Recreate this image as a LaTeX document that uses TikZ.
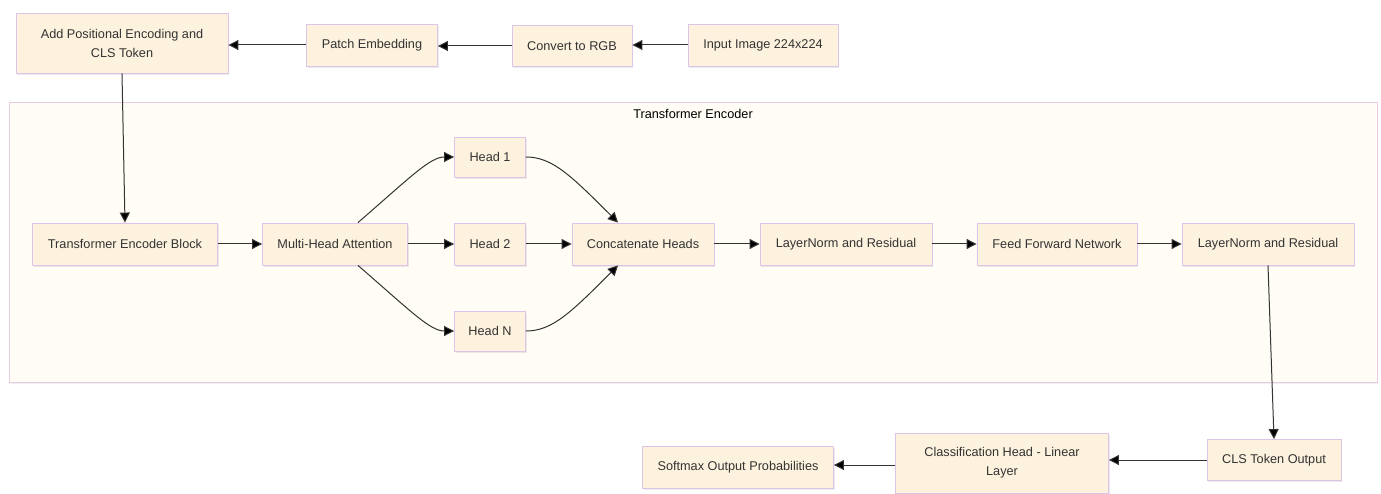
\documentclass[tikz,border=0pt]{standalone}
\usepackage{fontspec}
\setmainfont{Liberation Sans}
\usepackage{tikz}
\usetikzlibrary{arrows.meta,shadows,calc}
\usepackage{xcolor}
\definecolor{stagefill}{RGB}{253,242,222}
\definecolor{stagedraw}{RGB}{222,196,232}
\definecolor{groupfill}{RGB}{255,253,246}
\definecolor{groupdraw}{RGB}{230,205,228}
\definecolor{inkcol}{RGB}{51,51,51}
\tikzset{
  % processing stage
  stage/.style={rectangle, draw=stagedraw, fill=stagefill, line width=0.9pt,
                minimum width=#1, minimum height=42pt, inner sep=3pt,
                text=inkcol, align=center,
                font=\fontsize{12.7}{19}\selectfont,
                drop shadow={opacity=0.16, shadow xshift=1pt, shadow yshift=-1.6pt}},
  stage/.default={140pt},
  % surrounding group
  groupbox/.style={rectangle, draw=groupdraw, fill=groupfill, line width=0.9pt,
                   drop shadow={opacity=0.12, shadow xshift=1pt, shadow yshift=-1.6pt}},
  % data flow arrow
  flow/.style={-{Triangle[length=10pt,width=10pt,fill=black]}, line width=1pt, draw=inkcol},
}

\begin{document}
\begin{tikzpicture}[x=1pt, y=1pt]
  \useasboundingbox (0,0) rectangle (1381,493);

  % encoder group
  \node[groupbox, minimum width=1368pt, minimum height=280pt, anchor=south west] (enc) at (9,110) {};
  \node[font=\fontsize{12.7}{15}\selectfont, text=black] (enctitle) at (693,379) {Transformer Encoder};

  % input pipeline
  \node[stage=212pt, minimum height=60pt] (addpos) at (122,450) {Add Positional Encoding and\\CLS Token};
  \node[stage=131pt] (patch) at (372,448) {Patch Embedding};
  \node[stage=120pt, minimum height=41pt] (rgb) at (572,447) {Convert to RGB};
  \node[stage=150pt] (input) at (763,448) {Input Image 224x224};

  % encoder stages
  \node[stage=185pt] (block) at (125,249) {Transformer Encoder Block};
  \node[stage=145pt] (mha) at (335,249) {Multi-Head Attention};
  \node[stage=71pt, minimum height=40pt] (head1) at (490,336) {Head 1};
  \node[stage=71pt] (head2) at (490,249) {Head 2};
  \node[stage=71pt, minimum height=40pt] (headn) at (490,162) {Head N};
  \node[stage=142pt] (concat) at (643,249) {Concatenate Heads};
  \node[stage=172pt] (norm1) at (846,249) {LayerNorm and Residual};
  \node[stage=160pt] (ffn) at (1057,249) {Feed Forward Network};
  \node[stage=172pt] (norm2) at (1268,249) {LayerNorm and Residual};

  % output stages
  \node[stage=134pt, minimum height=41pt] (cls) at (1274,33) {CLS Token Output};
  \node[stage=213pt, minimum height=60pt] (classif) at (1002,30) {Classification Head - Linear\\Layer};
  \node[stage=191pt] (softmax) at (738,26) {Softmax Output Probabilities};

  % fan-out and fan-in points
  \coordinate (mhatop) at ($(mha.north)+(23,0)$);
  \coordinate (mhabot) at ($(mha.south)+(23,0)$);
  \coordinate (cattop) at ($(concat.north)+(-25,0)$);
  \coordinate (catbot) at ($(concat.south)+(-25,0)$);
  \coordinate (clsout) at ($(classif.west)+(0,-2)$);

  % top row, right to left
  \draw[flow] (input.west) -- (input.west -| rgb.east);
  \draw[flow] (rgb.west) -- (rgb.west -| patch.east);
  \draw[flow] (patch.west) -- (patch.west -| addpos.east);
  \draw[flow] (addpos.south) -- (block.north);

  % attention heads
  \draw[flow] (block) -- (mha);
  \draw[flow] (mhatop) .. controls +(52,45) and +(-24,0) .. (head1.west);
  \draw[flow] (mha) -- (head2);
  \draw[flow] (mhabot) .. controls +(52,-45) and +(-24,0) .. (headn.west);
  \draw[flow] (head1.east) .. controls +(26,0) and +(-48,48) .. (cattop);
  \draw[flow] (head2) -- (concat);
  \draw[flow] (headn.east) .. controls +(26,0) and +(-48,-48) .. (catbot);
  \draw[flow] (concat) -- (norm1);
  \draw[flow] (norm1) -- (ffn);
  \draw[flow] (ffn) -- (norm2);

  % classification
  \draw[flow] (norm2.south) -- (cls.north);
  \draw[flow] (cls.west) -- (cls.west -| classif.east);
  \draw[flow] (clsout) -- (clsout -| softmax.east);
\end{tikzpicture}
\end{document}
